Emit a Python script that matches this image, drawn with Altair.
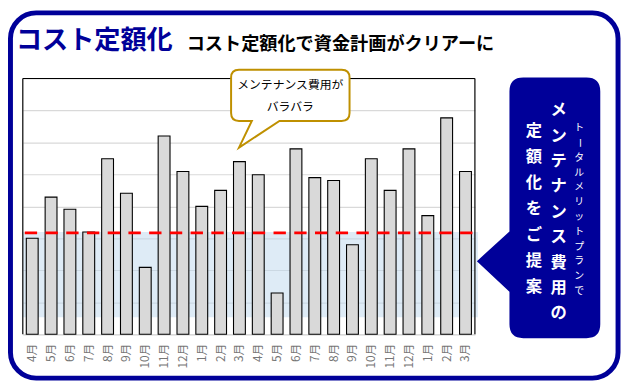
import altair as alt
import pandas as pd

FONT = "Noto Sans CJK JP"
BLUE = "#000099"
GOLD = "#BF9000"

# ---- data -------------------------------------------------------------
months = ["4月", "5月", "6月", "7月", "8月", "9月", "10月", "11月", "12月", "1月", "2月", "3月",
          "4月", "5月", "6月", "7月", "8月", "9月", "10月", "11月", "12月", "1月", "2月", "3月"]
costs = [3.0, 4.29, 3.91, 3.2, 5.49, 4.41, 2.09, 6.2, 5.09, 4.0, 4.5, 5.4,
         4.99, 1.29, 5.8, 4.9, 4.81, 2.8, 5.49, 4.5, 5.8, 3.71, 6.77, 5.09]
fixed_cost = [3.17]
band_low = [0.53]
band_high = [3.2]
y_max = 8

title_text = "コスト定額化"
subtitle_text = "コスト定額化で資金計画がクリアーに"
bubble_lines = ["メンテナンス費用が", "バラバラ"]
col_small = "トータルメリットプランで"
col_main = "メンテナンス費用の"
col_left = "定額化をご提案"

# ---- geometry ---------------------------------------------------------
W, H = 458, 259
one = pd.DataFrame({"a": [0]})
yscale = alt.Scale(domain=[0, y_max])

bars_df = pd.DataFrame({"key": [f"{m}_{i}" for i, m in enumerate(months)], "cost": costs})

bars = alt.Chart(bars_df).mark_bar(size=12, fill="#D9D9D9", stroke="black", strokeWidth=1.1).encode(
    x=alt.X("key:N", sort=None, title=None,
            axis=alt.Axis(labelAngle=270, labelExpr="split(datum.value, '_')[0]",
                          labelColor="#767676", labelFont=FONT, labelFontSize=12,
                          ticks=False, domainColor="#D9D9D9", domainWidth=1.5, labelPadding=9)),
    y=alt.Y("cost:Q", scale=yscale, title=None,
            axis=alt.Axis(values=list(range(0, y_max + 1)), labels=False, ticks=False,
                          domain=False, grid=True, gridColor="#D9D9D9", gridWidth=1.2)),
)

band = alt.Chart(pd.DataFrame({"lo": band_low, "hi": band_high})).mark_rect(
    fill="#BDD7EE", opacity=0.5).encode(
    x=alt.value(0), x2=alt.value(461),
    y=alt.Y("lo:Q", scale=yscale, axis=None), y2="hi:Q")

dash = alt.Chart(pd.DataFrame({"v": fixed_cost})).mark_rule(
    color="#FF0000", strokeWidth=3, strokeDash=[12.5, 8.5]).encode(
    x=alt.value(2), x2=alt.value(456), y=alt.Y("v:Q", scale=yscale, axis=None))

b_top = alt.Chart(one).mark_rule(color="black", strokeWidth=1.2).encode(
    x=alt.value(0), x2=alt.value(W), y=alt.value(0))
b_left = alt.Chart(one).mark_rule(color="black", strokeWidth=1.2).encode(
    x=alt.value(0), y=alt.value(0), y2=alt.value(H))
b_right = alt.Chart(one).mark_rule(color="black", strokeWidth=1.2).encode(
    x=alt.value(W), y=alt.value(0), y2=alt.value(H))

frame = alt.Chart(one).mark_rect(cornerRadius=26, fillOpacity=0, stroke=BLUE, strokeWidth=5).encode(
    x=alt.value(-12.5), x2=alt.value(603), y=alt.value(-66.5), y2=alt.value(303.5))

GOLD_PATH = ("M -52 -32 L 52 -32 Q 60 -32 60 -24 L 60 12 Q 60 20 52 20 L -11 20 "
             "L -52 47 L -39 20 L -52 20 Q -60 20 -60 12 L -60 -24 Q -60 -32 -52 -32 Z")
gold = alt.Chart(one).mark_point(shape=GOLD_PATH, size=4, filled=True, fill="white",
                                 stroke=GOLD, strokeWidth=2, opacity=1).encode(
    x=alt.value(271), y=alt.value(23))

BLUE_PATH = ("M -32 -132 L 32 -132 Q 46 -132 46 -118 L 46 118 Q 46 132 32 132 L -32 132 "
             "Q -46 132 -46 118 L -46 85 L -79 54 L -46 24 L -46 -118 Q -46 -132 -32 -132 Z")
bluebox = alt.Chart(one).mark_point(shape=BLUE_PATH, size=4, filled=True, fill=BLUE,
                                    opacity=1).encode(x=alt.value(539), y=alt.value(131))

bub1 = alt.Chart(one).mark_text(font=FONT, fontSize=12, color="black", align="center",
                                baseline="middle").encode(
    x=alt.value(271), y=alt.value(6.5), text=alt.value(bubble_lines[0]))
bub2 = alt.Chart(one).mark_text(font=FONT, fontSize=12, color="black", align="center",
                                baseline="middle").encode(
    x=alt.value(271), y=alt.value(29), text=alt.value(bubble_lines[1]))

title = alt.Chart(one).mark_text(font=FONT, fontSize=26.5, fontWeight="bold", color=BLUE,
                                 align="left", baseline="middle").encode(
    x=alt.value(-7), y=alt.value(-38), text=alt.value(title_text))
subtitle = alt.Chart(one).mark_text(font=FONT, fontSize=18.4, fontWeight="bold", color="black",
                                    align="left", baseline="middle").encode(
    x=alt.value(166), y=alt.value(-35), text=alt.value(subtitle_text))


def column(text, x, y0, step, size, weight):
    chars = list(text)
    df = pd.DataFrame({
        "ch": chars,
        "px": [x] * len(chars),
        "py": [y0 + i * step for i in range(len(chars))],
        "ang": [90 if c == "ー" else 0 for c in chars],
    })
    return alt.Chart(df).mark_text(font=FONT, fontSize=size, fontWeight=weight, color="white",
                                   align="center", baseline="middle").encode(
        x=alt.X("px:Q", scale=None, axis=None),
        y=alt.Y("py:Q", scale=None, axis=None),
        angle=alt.Angle("ang:Q", scale=None),
        text="ch:N")


c_left = column(col_left, 517.8, 53, 26.4, 16.5, "bold")
c_main = column(col_main, 542.7, 32.3, 25.7, 16.5, "bold")
c_small = column(col_small, 563.7, 50.3, 15, 10, "normal")

chart = alt.layer(
    frame, band, bars, dash, b_top, b_left, b_right, gold, bub1, bub2,
    bluebox, c_left, c_main, c_small, title, subtitle
).resolve_scale(x="independent", y="independent").properties(
    width=W, height=H,
    padding={"left": 15, "top": 69, "right": 148, "bottom": 47},
    autosize=alt.AutoSizeParams(type="none"),
    background="white",
).configure_view(strokeWidth=0)

chart.save("out.html", embed_options={"renderer": "svg", "actions": False})
